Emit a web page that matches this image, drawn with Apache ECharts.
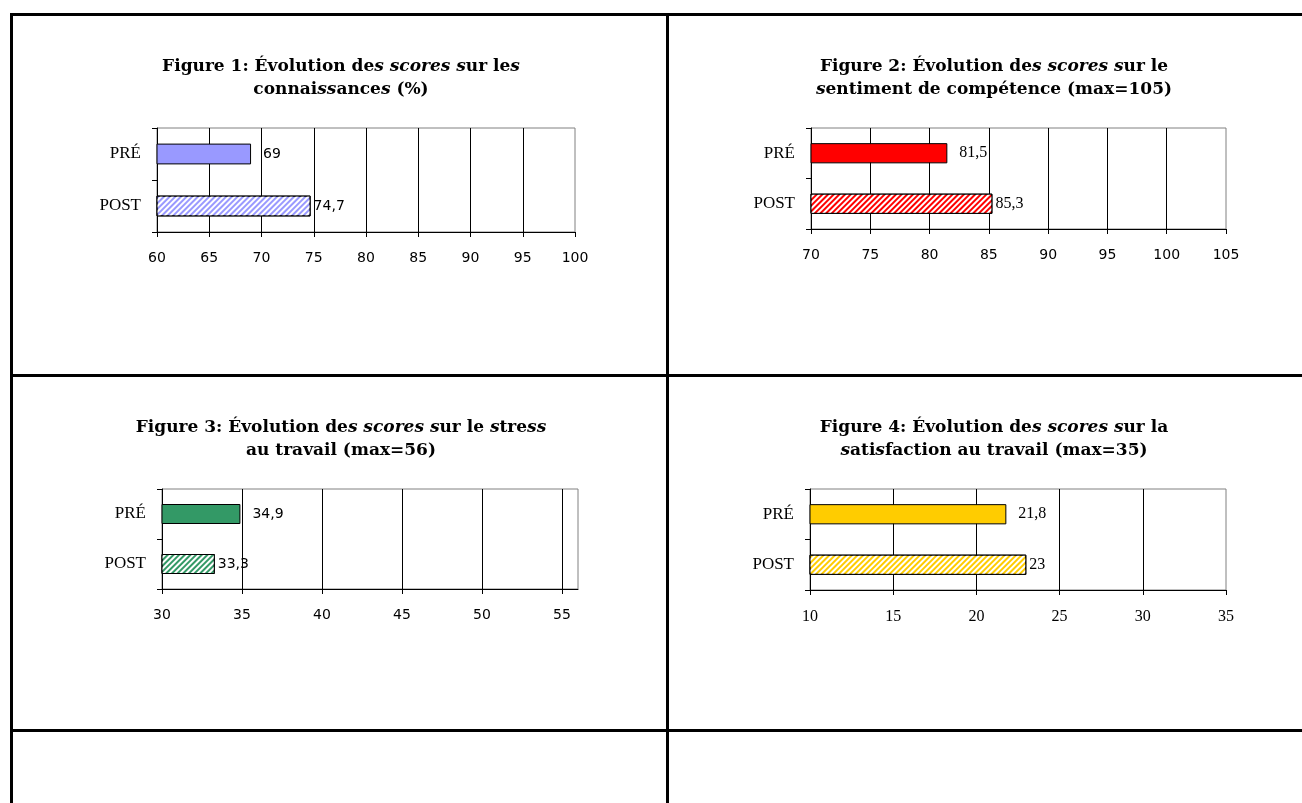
<!DOCTYPE html>
<html>
<head>
<meta charset="utf-8">
<script src="https://cdn.jsdelivr.net/npm/echarts@6/dist/echarts.min.js"></script>
<style>
  html, body { margin: 0; padding: 0; background: #fff; }
  #chart { width: 1302px; height: 803px; }
</style>
</head>
<body>
<div id="chart"></div>
<script>
// Categories shared by the four figures
const categories = ['PRÉ', 'POST'];

// Mean scores before / after
const scoresConnaissances = [69, 74.7];
const scoresCompetence = [81.5, 85.3];
const scoresStress = [34.9, 33.3];
const scoresSatisfaction = [21.8, 23];

// Axis ranges [min, max, interval]
const rangeConnaissances = [60, 100, 5];
const rangeCompetence = [70, 105, 5];
const rangeStress = [30, 56, 5];
const rangeSatisfaction = [10, 35, 5];

// Figure titles
const titles = [
  'Figure 1: Évolution des scores sur les\nconnaissances (%)',
  'Figure 2: Évolution des scores sur le\nsentiment de compétence (max=105)',
  'Figure 3: Évolution des scores sur le stress\nau travail (max=56)',
  'Figure 4: Évolution des scores sur la\nsatisfaction au travail (max=35)'
];

const SERIF = '"Liberation Serif", "Times New Roman", serif';
const TITLE_SERIF = '"DejaVu Serif", serif';
const SANS = '"DejaVu Sans", Verdana, sans-serif';

// Title runs: every "s" and the word "scores" are italic, the rest upright; all bold
function richTitle(str) {
  return str.split('\n').map(line => {
    const runs = [];
    line.split(' ').forEach((w, wi) => {
      const parts = w === 'scores'
        ? [['i', w]]
        : w.split(/(s)/).filter(Boolean).map(t => [t === 's' ? 'i' : 'b', t]);
      if (wi > 0) parts.unshift(['b', ' ']);
      parts.forEach(([st, t]) => {
        const last = runs[runs.length - 1];
        if (last && last[0] === st) last[1] += t;
        else runs.push([st, t]);
      });
    });
    return runs.map(([st, t]) => '{' + st + '|' + t + '}').join('');
  }).join('\n');
}

const panels = [
  { values: scoresConnaissances, range: rangeConnaissances, color: '#9999FF',
    grid: { left: 157, top: 128, width: 418, height: 104 }, titleX: 341, titleTop: 55,
    tickFont: SANS, tickSize: 14, valueFont: SANS, valueSize: 14 },
  { values: scoresCompetence, range: rangeCompetence, color: '#FF0000',
    grid: { left: 811, top: 128, width: 415, height: 101 }, titleX: 994, titleTop: 55,
    tickFont: SANS, tickSize: 14, valueFont: SERIF, valueSize: 16 },
  { values: scoresStress, range: rangeStress, color: '#339966',
    grid: { left: 162, top: 489, width: 416, height: 100 }, titleX: 341, titleTop: 416,
    tickFont: SANS, tickSize: 14, valueFont: SANS, valueSize: 14 },
  { values: scoresSatisfaction, range: rangeSatisfaction, color: '#FFCC00',
    grid: { left: 810, top: 489, width: 416, height: 101 }, titleX: 994, titleTop: 416,
    tickFont: SERIF, tickSize: 16, valueFont: SERIF, valueSize: 16 }
];

const fmt = v => String(v).replace('.', ',');

const titleRun = extra => Object.assign({
  fontFamily: TITLE_SERIF, fontWeight: 'bold', fontSize: 17, lineHeight: 23, color: '#000'
}, extra);

const option = {
  animation: false,
  backgroundColor: '#fff',
  title: panels.map((p, i) => ({
    text: richTitle(titles[i]),
    left: p.titleX,
    top: p.titleTop,
    textAlign: 'center',
    padding: 0,
    textStyle: Object.assign(titleRun({}), {
      rich: { b: titleRun({}), i: titleRun({ fontStyle: 'italic' }) }
    })
  })),
  grid: panels.map(p => Object.assign({ show: true, borderColor: '#808080', borderWidth: 1, backgroundColor: '#fff' }, p.grid)),
  xAxis: panels.map((p, i) => ({
    type: 'value', gridIndex: i,
    min: p.range[0], max: p.range[1], interval: p.range[2],
    axisLine: { show: true, lineStyle: { color: '#000', width: 1 } },
    axisTick: { show: true, length: 5, lineStyle: { color: '#000' } },
    axisLabel: { color: '#000', fontFamily: p.tickFont, fontSize: p.tickSize, margin: 19, showMaxLabel: i !== 2 },
    splitLine: { show: true, showMinLine: false, showMaxLine: false, lineStyle: { color: '#000', width: 1 } }
  })),
  yAxis: panels.map((p, i) => ({
    type: 'category', gridIndex: i, data: categories, inverse: true,
    axisLine: { show: true, lineStyle: { color: '#000', width: 1 } },
    axisTick: { show: true, length: 5, lineStyle: { color: '#000' } },
    axisLabel: { color: '#000', fontFamily: SERIF, fontSize: 17, margin: 16 },
    splitLine: { show: false }
  })),
  series: panels.map((p, i) => ({
    type: 'bar', xAxisIndex: i, yAxisIndex: i,
    barCategoryGap: '60%',
    data: p.values.map((v, k) => ({
      value: v,
      itemStyle: k === 0
        ? { color: p.color, borderColor: '#000', borderWidth: 1 }
        : { color: p.color, borderColor: '#000', borderWidth: 1,
            decal: { symbol: 'rect', symbolSize: 1, dashArrayX: [1, 0], dashArrayY: [2, 2], rotation: -Math.PI / 4, color: '#fff' } },
      label: { distance: k === 0 ? 12 : 3 }
    })),
    label: {
      show: true, position: 'right', color: '#000',
      fontFamily: p.valueFont, fontSize: p.valueSize,
      formatter: params => fmt(params.value)
    }
  })),
  // Table frame around the four figures
  graphic: [
    { type: 'line', shape: { x1: 10, y1: 14.5, x2: 1302, y2: 14.5 }, style: { stroke: '#000', lineWidth: 3 } },
    { type: 'line', shape: { x1: 11.5, y1: 13, x2: 11.5, y2: 803 }, style: { stroke: '#000', lineWidth: 3 } },
    { type: 'line', shape: { x1: 667.5, y1: 13, x2: 667.5, y2: 803 }, style: { stroke: '#000', lineWidth: 3 } },
    { type: 'line', shape: { x1: 10, y1: 375.5, x2: 1302, y2: 375.5 }, style: { stroke: '#000', lineWidth: 3 } },
    { type: 'line', shape: { x1: 10, y1: 730.5, x2: 1302, y2: 730.5 }, style: { stroke: '#000', lineWidth: 3 } }
  ]
};

const chart = echarts.init(document.getElementById('chart'), null, { renderer: 'canvas' });
chart.setOption(option);
</script>
</body>
</html>
